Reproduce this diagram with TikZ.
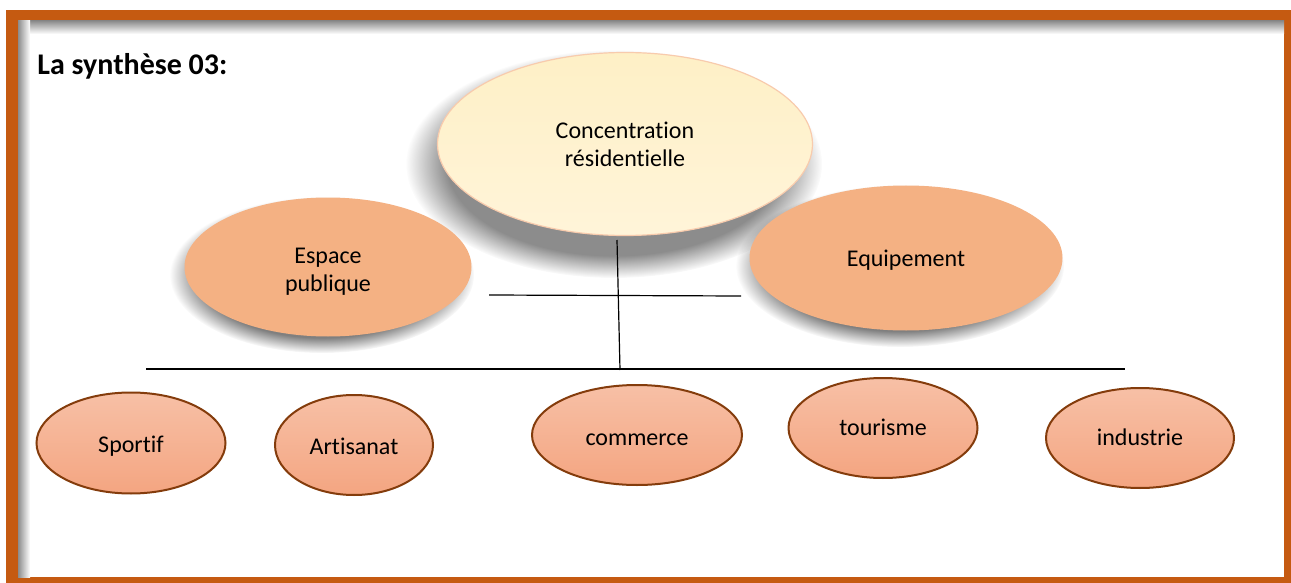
\documentclass[tikz,border=0pt]{standalone}
\usepackage{fontspec}
\setmainfont[Ligatures=NoCommon]{Carlito}
\usetikzlibrary{shapes.geometric,fadings}
\definecolor{framec}{HTML}{C55A11}
\definecolor{orangefill}{HTML}{F4B183}
\definecolor{creamtop}{HTML}{FEF0C6}
\definecolor{creambot}{HTML}{FFF4D9}
\definecolor{creamline}{HTML}{F8CBAD}
\definecolor{smalltop}{HTML}{F7C0A6}
\definecolor{smallbot}{HTML}{F4A581}
\definecolor{smallline}{HTML}{843C0C}
\newcommand{\dn}[2][2pt]{\raisebox{-#1}[\height][\depth]{\begin{tabular}{@{}c@{}}#2\end{tabular}}}
\tikzset{
  lbl/.style={font=\fontsize{12}{14}\selectfont, align=center, text=black},
  bigell/.style={ellipse, inner sep=0pt, lbl, fill=orangefill, draw=none},
  centell/.style={ellipse, inner sep=0pt, lbl, top color=creamtop, bottom color=creambot, draw=creamline, line width=0.6pt},
  smallell/.style={ellipse, inner sep=0pt, lbl, top color=smalltop, bottom color=smallbot, draw=smallline, line width=1pt},
  shadowell/.style={fill=black, opacity=#1, path fading=circle with fuzzy edge 20 percent},
  conn/.style={draw=black, line width=0.6pt}
}
\begin{document}
\begin{tikzpicture}[x=0.5pt,y=-0.5pt]
\useasboundingbox (0,0) rectangle (1291,583);
\fill[white] (0,0) rectangle (1291,583);
% frame
\fill[framec] (6,10) rectangle (1291,583);
\fill[white] (18,21) rectangle (1284,577);
\shade[top color=black!45, bottom color=white] (18,21) rectangle (1284,34);
\shade[left color=black!45, right color=white] (18,21) rectangle (30,577);
% title
\node[anchor=base west, font=\fontsize{15}{18}\selectfont\bfseries, inner sep=0pt] (title) at (37,75) {La synthèse 03:};
% central
\fill[shadowell=0.45] (614,164) ellipse [x radius=104pt, y radius=57pt];
\node[centell, minimum width=187.5pt, minimum height=91.5pt] (cen) at (625,144) {Concentration\\résidentielle};
\fill[shadowell=0.5] (322,275) ellipse [x radius=76pt, y radius=39pt];
\fill[shadowell=0.5] (900,266) ellipse [x radius=82pt, y radius=40.5pt];
\node[bigell, minimum width=143.5pt, minimum height=69.5pt] (esp) at (328,267) {\dn[2.5pt]{Espace\\publique}};
\node[bigell, minimum width=156.5pt, minimum height=72.5pt] (equ) at (906,258) {\dn[1.5pt]{Equipement}};
% lines
\coordinate (vtop) at (617,240);
\coordinate (vbot) at (620,370);
\coordinate (hl) at (489,295);
\coordinate (hr) at (741,296);
\coordinate (bl) at (146,369);
\coordinate (br) at (1125,369);
\draw[conn] (vtop) -- (vbot);
\draw[conn] (hl) -- (hr);
\draw[conn] (bl) -- (br);
% bottom
\node[smallell, minimum width=94.5pt, minimum height=50.5pt] (spo) at (131,443) {\dn{Sportif}};
\node[smallell, minimum width=79pt, minimum height=50pt] (art) at (354,445) {\dn{Artisanat}};
\node[smallell, minimum width=105pt, minimum height=50pt] (com) at (637,435) {\dn[2.5pt]{commerce}};
\node[smallell, minimum width=94.5pt, minimum height=50pt] (tou) at (883,428) {\dn[1pt]{tourisme}};
\node[smallell, minimum width=94pt, minimum height=50pt] (ind) at (1140,438) {\dn[1pt]{industrie}};
\end{tikzpicture}
\end{document}
